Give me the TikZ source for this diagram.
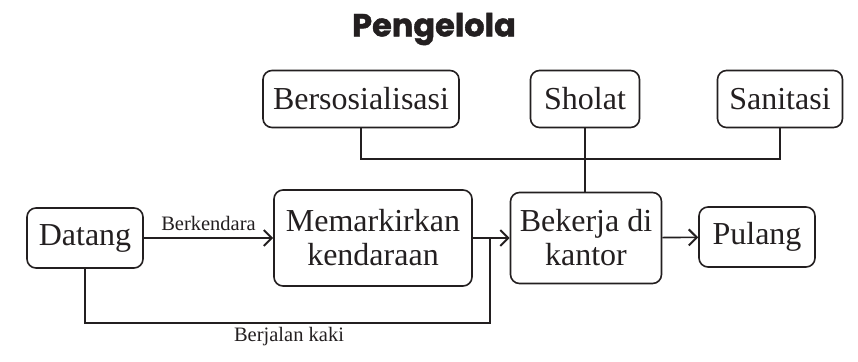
\documentclass[tikz,border=0pt]{standalone}
\usepackage{fontspec}
\setmainfont{Liberation Serif}
\newfontfamily\titlefont[FakeBold=1.2]{Poppins}
\usetikzlibrary{arrows.meta}
\definecolor{ink}{RGB}{35,31,32}
\begin{document}
\begin{tikzpicture}[x=1pt,y=-1pt,
  box/.style={draw=ink, text=ink, line width=1.6pt, rounded corners=9pt, align=center,
    font=\fontsize{32}{34}\selectfont, inner sep=0pt},
  conn/.style={draw=ink, line width=1.6pt},
  arr/.style={conn, -{Straight Barb[length=8pt,width=16pt,line width=2pt]}},
  lbl/.style={text=ink, font=\fontsize{20.5}{23}\selectfont, inner sep=0pt}]
\useasboundingbox (0,0) rectangle (858,361);
\node[text=ink, font=\titlefont\bfseries\fontsize{32}{36}\selectfont] (title) at (434,29) {Pengelola};
\node[box, minimum width=116pt, minimum height=60pt] (datang) at (85,238) {Datang};
\node[box, minimum width=198pt, minimum height=96pt] (parkir) at (373,238) {Memarkirkan\\kendaraan};
\node[box, minimum width=151pt, minimum height=91pt] (kerja) at (586,238) {Bekerja di\\kantor};
\node[box, minimum width=116pt, minimum height=60pt] (pulang) at (757,237) {Pulang};
\node[box, minimum width=196pt, minimum height=57pt] (bers) at (361,99) {Bersosialisasi};
\node[box, minimum width=109pt, minimum height=57pt] (sholat) at (585,99) {Sholat};
\node[box, minimum width=125pt, minimum height=57pt] (sani) at (780,99) {Sanitasi};
\coordinate (busy) at (0,159);
\coordinate (j) at (490,238);
\coordinate (walk) at (490,323);
\draw[conn] (bers.south) -- (bers.south |- busy) -- (sani.south |- busy) -- (sani.south);
\draw[conn] (sholat.south) -- (sholat.south |- kerja.north);
\draw[arr] (datang) -- node[lbl, above=7pt] (lb1) {Berkendara} (parkir);
\draw[arr] (parkir) -- (kerja);
\draw[conn] (datang.south) |- (walk) -- (j);
\node[lbl] (lb2) at (289,337) {Berjalan kaki};
\draw[arr] (kerja) -- (pulang);
\end{tikzpicture}
\end{document}
